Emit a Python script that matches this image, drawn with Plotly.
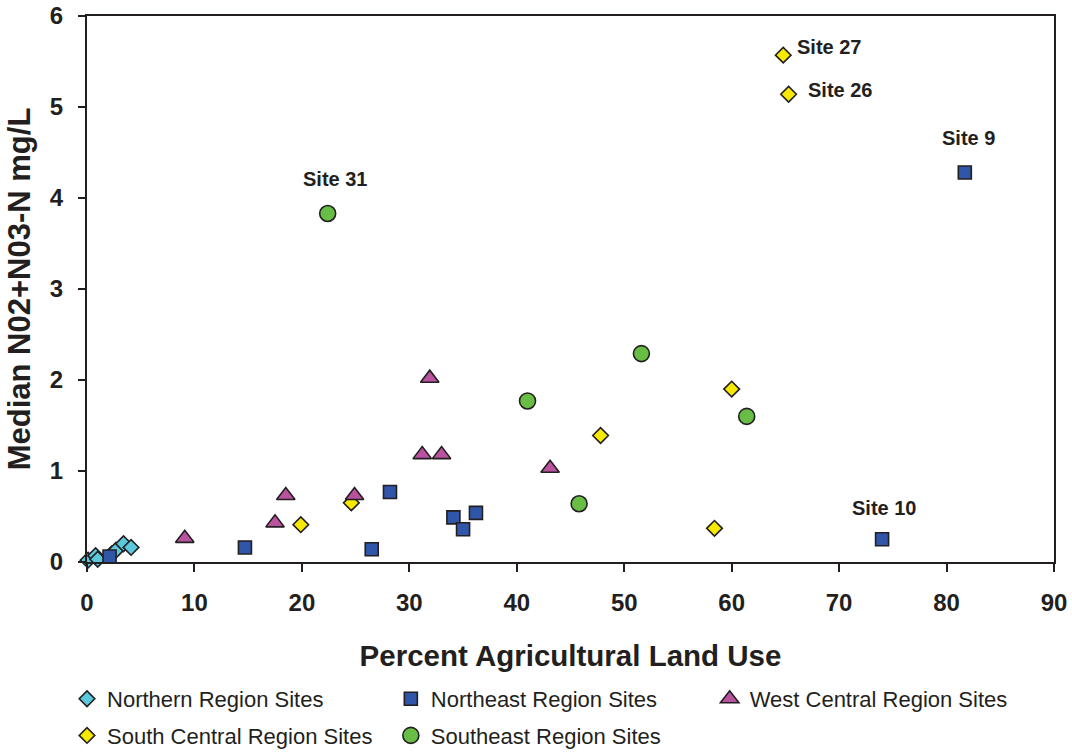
import plotly.graph_objects as go

# ---- data ----
northern_x = [0.1, 0.8, 1.0, 2.3, 2.7, 3.4, 4.1]
northern_y = [0.02, 0.07, 0.03, 0.09, 0.13, 0.20, 0.16]

northeast_x = [2.1, 14.7, 26.5, 28.2, 34.1, 35.0, 36.2, 74.0, 81.7]
northeast_y = [0.06, 0.16, 0.14, 0.77, 0.49, 0.36, 0.54, 0.25, 4.28]

westcentral_x = [9.1, 17.5, 18.5, 24.9, 31.2, 31.9, 33.0, 43.1]
westcentral_y = [0.26, 0.43, 0.73, 0.73, 1.18, 2.02, 1.18, 1.03]

southcentral_x = [19.9, 24.6, 47.8, 58.4, 60.0, 64.8, 65.3]
southcentral_y = [0.41, 0.65, 1.39, 0.37, 1.90, 5.57, 5.14]

southeast_x = [22.4, 41.0, 45.8, 51.6, 61.4]
southeast_y = [3.83, 1.77, 0.64, 2.29, 1.60]

# labelled sites
site_labels = ["Site 27", "Site 26", "Site 9", "Site 31", "Site 10"]
site_x = [64.8, 65.3, 81.7, 22.4, 74.0]
site_y = [5.57, 5.14, 4.28, 3.83, 0.25]
site_xshift = [46, 51, 4, 7, 2]
site_yshift = [8, 4, 35, 34, 31]

x_ticks = [0, 10, 20, 30, 40, 50, 60, 70, 80, 90]
y_ticks = [0, 1, 2, 3, 4, 5, 6]

FONT = "Liberation Sans, Arial, sans-serif"
INK = "#231f20"

fig = go.Figure()

def add(name, xs, ys, symbol, size, color, legend, group):
    fig.add_trace(go.Scatter(
        x=xs, y=ys, mode="markers", name=name,
        marker=dict(symbol=symbol, size=size, color=color,
                    line=dict(color=INK, width=1.6)),
        cliponaxis=False, legend=legend, legendgroup=group,
    ))

add("Northern Region Sites", northern_x, northern_y, "diamond", 12, "#5cc8dc", "legend", "a")
add("South Central Region Sites", southcentral_x, southcentral_y, "diamond", 12, "#f7ea00", "legend", "b")
add("Northeast Region Sites", northeast_x, northeast_y, "square", 13, "#2f56a8", "legend2", "c")
add("Southeast Region Sites", southeast_x, southeast_y, "circle", 16, "#68bd45", "legend2", "d")
add("West Central Region Sites", westcentral_x, westcentral_y, "triangle-up", 16, "#b9529f", "legend3", "e")

for name, sx, sy, dx, dy in zip(site_labels, site_x, site_y, site_xshift, site_yshift):
    fig.add_annotation(x=sx, y=sy, text="<b>%s</b>" % name, showarrow=False,
                       xshift=dx, yshift=dy,
                       font=dict(family=FONT, size=20, color=INK))

axis_common = dict(
    showline=True, linecolor=INK, linewidth=2, mirror=True,
    showgrid=False, zeroline=False, ticks="outside", tickcolor=INK,
    tickwidth=2, automargin=False, ticklabeloverflow="allow",
)

fig.update_xaxes(
    range=[0, 90], tickvals=x_ticks, ticklen=8, ticklabelstandoff=10,
    tickfont=dict(family=FONT, size=24, color=INK, weight="bold"),
    title=dict(text="<b>Percent Agricultural Land Use</b>", standoff=31,
               font=dict(family=FONT, size=29.5, color=INK)),
    **axis_common,
)
fig.update_yaxes(
    range=[0, 6], tickvals=y_ticks, ticklen=7, ticklabelstandoff=10,
    tickfont=dict(family=FONT, size=24, color=INK, weight="bold"),
    title=dict(text="<b>Median N02+N03-N mg/L</b>", standoff=10,
               font=dict(family=FONT, size=31, color=INK)),
    **axis_common,
)

# plot area spans x 86.5..1054 px and y 16..562 px of the page
PLOT_W = 1072 - 86.5 - 18
PLOT_H = 754 - 16 - 192

def lx(px_left):
    return (px_left - 86.5) / PLOT_W

leg_y = -(678 - 562) / PLOT_H
leg_common = dict(orientation="v", yanchor="top", xanchor="left", y=leg_y,
                  font=dict(family=FONT, size=22, color=INK),
                  tracegroupgap=5, bgcolor="rgba(0,0,0,0)", borderwidth=0)

fig.update_layout(
    width=1072, height=754,
    margin=dict(l=86.5, r=18, t=16, b=192, autoexpand=False),
    plot_bgcolor="white", paper_bgcolor="white",
    font=dict(family=FONT, color=INK),
    legend=dict(x=lx(66.5), **leg_common),
    legend2=dict(x=lx(390.5), **leg_common),
    legend3=dict(x=lx(709.5), **leg_common),
)

fig.write_html(
    "out.html",
    config={"displayModeBar": False},
    post_script="document.body.style.margin='0px';document.body.style.overflow='hidden';",
)
